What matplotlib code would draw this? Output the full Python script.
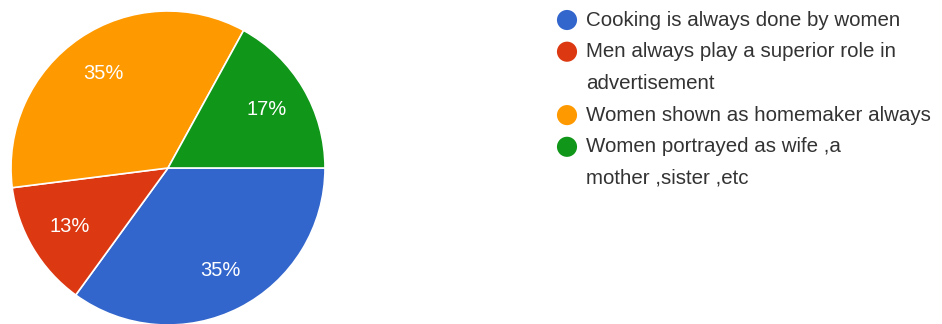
import matplotlib

matplotlib.use("Agg")
import matplotlib.pyplot as plt

plt.rcParams["font.family"] = ["Liberation Sans", "DejaVu Sans"]

# Survey answers, shares in percent
categories = [
    "Cooking is always done by women",
    "Men always play a superior role in\nadvertisement",
    "Women shown as homemaker always",
    "Women portrayed as wife ,a\nmother ,sister ,etc",
]
shares = [35, 13, 35, 17]
colors = ["#3366cc", "#dc3912", "#ff9900", "#109618"]

W, H = 942, 324
fig = plt.figure(figsize=(W / 100, H / 100), dpi=100)

# Pie, clockwise from three o'clock
ax = fig.add_axes([11 / W, -1 / H, 314 / W, 314 / H])
ax.pie(
    shares,
    colors=colors,
    startangle=0,
    counterclock=False,
    autopct="%d%%",
    pctdistance=0.73,
    wedgeprops={"edgecolor": "white", "linewidth": 1.2},
    textprops={"color": "white", "fontsize": 14.5},
)
ax.set_xlim(-1, 1)
ax.set_ylim(-1, 1)
ax.set_aspect("equal")

# Legend laid out in pixel space, one text per wrapped line
lg = fig.add_axes([0, 0, 1, 1])
lg.set_xlim(0, W)
lg.set_ylim(H, 0)
lg.axis("off")
y = 20
for label, color in zip(categories, colors):
    lg.scatter([567], [y], s=210, color=color, edgecolors="none")
    for line in label.split("\n"):
        lg.text(586, y, line, fontsize=14.8, color="#333333", va="center")
        y += 31.7

fig.savefig("out.png", dpi=100, facecolor="white")
